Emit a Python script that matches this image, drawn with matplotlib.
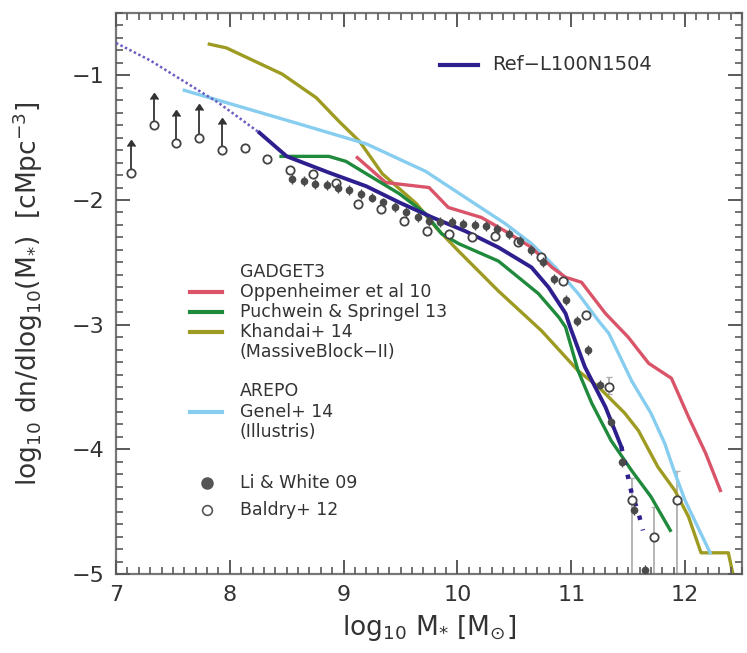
import matplotlib
matplotlib.use("Agg")
import matplotlib.pyplot as plt
import numpy as np

plt.rcParams['font.family'] = ['DejaVu Sans']
plt.rcParams['mathtext.fontset'] = 'dejavusans'
for a in ('xtick', 'ytick'):
    plt.rcParams[a + '.direction'] = 'in'
    plt.rcParams[a + '.major.size'] = 10
    plt.rcParams[a + '.major.width'] = 1.4
    plt.rcParams[a + '.minor.size'] = 5
    plt.rcParams[a + '.minor.width'] = 1.2
    plt.rcParams[a + '.color'] = '#5a5a5a'
    plt.rcParams[a + '.labelcolor'] = '#333333'
    plt.rcParams[a + '.labelsize'] = 16
    plt.rcParams[a + '.major.pad'] = 8
plt.rcParams['xtick.top'] = True
plt.rcParams['ytick.right'] = True

# Ref-L100N1504 (solid part + dotted extensions)
ref_x = [8.26, 8.50, 8.87, 9.20, 9.49, 9.78, 10.07, 10.36, 10.65, 10.80, 10.95, 10.99, 11.12, 11.30, 11.44]
ref_y = [-1.46, -1.65, -1.78, -1.89, -2.02, -2.14, -2.25, -2.38, -2.54, -2.70, -2.91, -3.02, -3.34, -3.66, -3.98]
ref_lo_x = [7.00, 7.30, 7.60, 7.90, 8.26]
ref_lo_y = [-0.74, -0.88, -1.05, -1.22, -1.46]
ref_hi_x = [11.44, 11.53, 11.59, 11.63]
ref_hi_y = [-3.98, -4.35, -4.51, -4.65]

# GADGET3
opp_x = [9.12, 9.37, 9.75, 9.92, 10.21, 10.42, 10.65, 10.83, 10.95, 11.09, 11.30, 11.50, 11.68, 11.88, 12.03, 12.18, 12.31]
opp_y = [-1.66, -1.86, -1.90, -2.06, -2.14, -2.25, -2.38, -2.54, -2.62, -2.66, -2.91, -3.10, -3.31, -3.43, -3.74, -4.03, -4.33]
puch_x = [8.45, 8.87, 9.02, 9.20, 9.49, 9.72, 9.86, 10.01, 10.36, 10.71, 10.89, 10.95, 11.06, 11.18, 11.35, 11.53, 11.70, 11.87]
puch_y = [-1.65, -1.65, -1.69, -1.79, -1.95, -2.11, -2.27, -2.35, -2.49, -2.75, -2.94, -3.02, -3.37, -3.63, -3.93, -4.17, -4.38, -4.65]
khan_x = [7.82, 7.97, 8.46, 8.76, 8.96, 9.14, 9.34, 9.64, 9.81, 10.01, 10.36, 10.74, 11.06, 11.24, 11.47, 11.59, 11.76, 11.91, 12.03, 12.14, 12.38, 12.42]
khan_y = [-0.75, -0.78, -0.99, -1.18, -1.37, -1.53, -1.79, -2.03, -2.22, -2.41, -2.73, -3.05, -3.37, -3.50, -3.71, -3.85, -4.14, -4.33, -4.54, -4.83, -4.83, -5.00]

# AREPO
genel_x = [7.60, 8.61, 9.20, 9.72, 10.07, 10.42, 10.65, 10.86, 11.06, 11.24, 11.33, 11.53, 11.70, 11.82, 11.91, 12.00, 12.11, 12.22]
genel_y = [-1.12, -1.39, -1.55, -1.77, -1.98, -2.19, -2.35, -2.54, -2.75, -2.97, -3.07, -3.45, -3.71, -3.95, -4.19, -4.41, -4.62, -4.83]

# observations
li_x = [8.55, 8.65, 8.75, 8.85, 8.95, 9.05, 9.15, 9.25, 9.35, 9.45, 9.55, 9.65, 9.75, 9.85, 9.95, 10.05,
        10.15, 10.25, 10.35, 10.45, 10.55, 10.65, 10.75, 10.85, 10.95, 11.05, 11.15, 11.25, 11.35, 11.45, 11.55, 11.65]
li_y = [-1.83, -1.85, -1.87, -1.88, -1.90, -1.92, -1.95, -1.98, -2.02, -2.06, -2.10, -2.14, -2.17, -2.18, -2.18, -2.19,
        -2.20, -2.21, -2.23, -2.27, -2.33, -2.40, -2.50, -2.63, -2.80, -2.97, -3.20, -3.48, -3.78, -4.10, -4.49, -4.97]
li_err = [0.04] * 32

bal_x = [7.13, 7.33, 7.53, 7.73, 7.93, 8.13, 8.33, 8.53, 8.73, 8.93, 9.13, 9.33, 9.53, 9.73, 9.93,
         10.13, 10.33, 10.53, 10.73, 10.93, 11.13, 11.33, 11.53, 11.73, 11.93]
bal_y = [-1.78, -1.40, -1.54, -1.50, -1.60, -1.58, -1.67, -1.76, -1.79, -1.86, -2.03, -2.07, -2.17, -2.25, -2.27,
         -2.30, -2.29, -2.34, -2.46, -2.65, -2.92, -3.50, -4.41, -4.70, -4.41]
bal_lim = [0.21, 0.21, 0.21, 0.22, 0.21]  # lower limits for the first five points
bal_err_lo = [0.02] * 20 + [0.03, 0.06, 1.5, 1.5, 1.5]
bal_err_hi = [0.02] * 20 + [0.03, 0.08, 0.18, 0.24, 0.24]

navy = '#2e1f8f'
red = '#d95468'
green = '#1f8a3c'
olive = '#9e9b22'
lblue = '#86cdef'
tc = '#333333'

fig = plt.figure(figsize=(7.47, 6.53), dpi=100)
ax = fig.add_axes([116 / 747, 1 - 574 / 653, 626 / 747, 561 / 653])

lw = 2.4
ax.plot(khan_x, khan_y, color=olive, lw=lw, zorder=3)
ax.plot(genel_x, genel_y, color=lblue, lw=lw, zorder=3)
ax.plot(opp_x, opp_y, color=red, lw=lw, zorder=3)
ax.plot(puch_x, puch_y, color=green, lw=lw, zorder=3)
ax.plot(ref_x, ref_y, color=navy, lw=2.8, zorder=4)
ax.plot(ref_lo_x, ref_lo_y, color='#6a5fc0', lw=1.8, ls=(0, (1, 1.0)), zorder=4)
ax.plot(ref_hi_x, ref_hi_y, color=navy, lw=3.2, ls=(0, (1, 2.2)), zorder=4)

# Baldry lower limits
n = len(bal_lim)
ax.errorbar(bal_x[:n], bal_y[:n], yerr=[np.zeros(n), bal_lim], lolims=True, fmt='none',
            color='#333333', ecolor='#333333', elinewidth=1.3, capsize=3, zorder=5)
# Baldry error bars
ax.errorbar(bal_x[n:], bal_y[n:], yerr=[bal_err_lo[n:], bal_err_hi[n:]], fmt='none',
            ecolor='#b0b0b0', elinewidth=1.3, capsize=2, zorder=2)
ax.plot(bal_x, bal_y, 'o', ms=6, mfc='white', mec='#444444', mew=1.3, zorder=6)

# Li & White
ax.errorbar(li_x, li_y, yerr=li_err, fmt='o', ms=4.5, color='#4a4a4a', ecolor='#4a4a4a',
            elinewidth=1.0, capsize=0, zorder=6)

ax.set_xlim(7, 12.5)
ax.set_ylim(-5, -0.5)
ax.set_xticks([7, 8, 9, 10, 11, 12])
ax.set_yticks([-5, -4, -3, -2, -1])
ax.set_yticklabels(['\u22125', '\u22124', '\u22123', '\u22122', '\u22121'])
ax.set_xticks(np.arange(7, 12.51, 0.1), minor=True)
ax.set_yticks(np.arange(-5, -0.49, 0.1), minor=True)
for s in ax.spines.values():
    s.set_color('#777777')
    s.set_linewidth(1.6)
ax.xaxis.set_zorder(7)
ax.yaxis.set_zorder(7)

ax.set_xlabel(r'log$_{10}$ M$_{*}$ [M$_{\odot}$]', fontsize=19, color=tc, labelpad=6)
ax.set_ylabel(r'log$_{10}$ dn/dlog$_{10}$(M$_{*}$)  [cMpc$^{-3}$]', fontsize=19, color=tc)
ax.yaxis.set_label_coords(-0.113, 0.5)

# legends drawn by hand (pixel positions converted to axes fraction)
def ax_xy(px, py):
    return (px - 116) / 626, (574 - py) / 561

fs = 12.5
x0, _ = ax_xy(440, 0)
x1, yy = ax_xy(478, 65)
ax.plot([x0, x1], [yy, yy], color=navy, lw=3, transform=ax.transAxes)
ax.text(ax_xy(492, 0)[0], yy, 'Ref\u2212L100N1504', transform=ax.transAxes, va='center', fontsize=14, color=tc)

lx0 = ax_xy(190, 0)[0]
lx1 = ax_xy(222, 0)[0]
tx = ax_xy(240, 0)[0]
mx = ax_xy(207, 0)[0]
rows = [
    (272, None, 'GADGET3'),
    (292, red, 'Oppenheimer et al 10'),
    (312, green, 'Puchwein & Springel 13'),
    (332, olive, 'Khandai+ 14'),
    (352, None, '(MassiveBlock\u2212II)'),
    (391, None, 'AREPO'),
    (412, lblue, 'Genel+ 14'),
    (432, None, '(Illustris)'),
]
for py, col, label in rows:
    yy = ax_xy(0, py)[1]
    if col is not None:
        ax.plot([lx0, lx1], [yy, yy], color=col, lw=3, transform=ax.transAxes)
    ax.text(tx, yy, label, transform=ax.transAxes, va='center', fontsize=fs, color=tc)

yy = ax_xy(0, 483)[1]
ax.plot([mx], [yy], 'o', ms=8, color='#555555', transform=ax.transAxes)
ax.text(tx, yy, 'Li & White 09', transform=ax.transAxes, va='center', fontsize=fs, color=tc)
yy = ax_xy(0, 510)[1]
ax.plot([mx], [yy], 'o', ms=7, mfc='white', mec='#555555', mew=1.2, transform=ax.transAxes)
ax.text(tx, yy, 'Baldry+ 12', transform=ax.transAxes, va='center', fontsize=fs, color=tc)

fig.savefig('out.png', dpi=100)
